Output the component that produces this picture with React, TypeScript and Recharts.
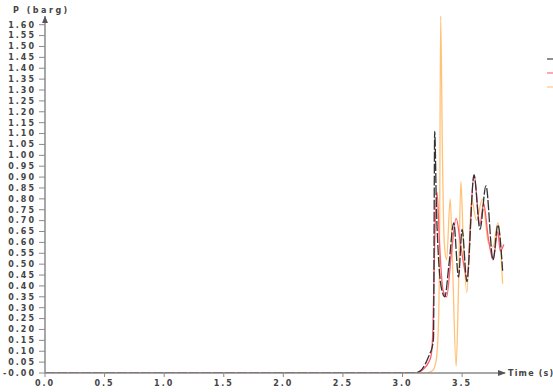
import React from "react";
import {
  LineChart,
  Line,
  XAxis,
  YAxis,
  Legend,
  ReferenceDot,
} from "recharts";

// pressure traces, time in s, pressure in barg
const blackTime = [0, 3.1, 3.15, 3.19, 3.23, 3.245, 3.26, 3.27, 3.285, 3.3, 3.33, 3.355, 3.39, 3.43, 3.47, 3.5, 3.54, 3.6, 3.65, 3.7, 3.76, 3.8, 3.84];
const blackP = [0, 0, 0.01, 0.04, 0.09, 0.11, 0.16, 1.11, 0.75, 0.55, 0.38, 0.35, 0.5, 0.69, 0.44, 0.66, 0.42, 0.91, 0.66, 0.86, 0.52, 0.68, 0.47];

const redTime = [0, 3.12, 3.18, 3.22, 3.24, 3.255, 3.27, 3.29, 3.31, 3.34, 3.37, 3.41, 3.45, 3.49, 3.54, 3.6, 3.65, 3.68, 3.72, 3.76, 3.8, 3.82, 3.85];
const redP = [0, 0, 0.02, 0.05, 0.08, 0.2, 0.6, 0.83, 0.6, 0.38, 0.35, 0.55, 0.71, 0.58, 0.44, 0.91, 0.68, 0.78, 0.62, 0.52, 0.65, 0.56, 0.59];

const orangeTime = [0, 3.2, 3.25, 3.28, 3.3, 3.31, 3.32, 3.335, 3.35, 3.37, 3.4, 3.42, 3.45, 3.47, 3.49, 3.51, 3.54, 3.58, 3.62, 3.67, 3.72, 3.76, 3.8, 3.84];
const orangeP = [0, 0, 0.01, 0.05, 0.2, 0.5, 1.64, 1.0, 0.6, 0.52, 0.8, 0.5, 0.03, 0.4, 0.88, 0.6, 0.37, 0.8, 0.7, 0.8, 0.6, 0.58, 0.69, 0.41];

const xTicks = [0, 0.5, 1.0, 1.5, 2.0, 2.5, 3.0, 3.5];
const yTicks = [
  0, 0.05, 0.1, 0.15, 0.2, 0.25, 0.3, 0.35, 0.4, 0.45, 0.5, 0.55, 0.6, 0.65,
  0.7, 0.75, 0.8, 0.85, 0.9, 0.95, 1.0, 1.05, 1.1, 1.15, 1.2, 1.25, 1.3, 1.35,
  1.4, 1.45, 1.5, 1.55, 1.6,
];

const zip = (t: number[], p: number[]) => t.map((v, i) => ({ t: v, p: p[i] }));

const series = [
  { name: "Test 3", data: zip(orangeTime, orangeP), color: "#ffc278", dash: undefined },
  { name: "Test 2", data: zip(redTime, redP), color: "#ff5c70", dash: undefined },
  { name: "Test 1", data: zip(blackTime, blackP), color: "#333", dash: "10 2" },
];

const axisColor = "#8a8a8a";
const tickStyle = { fontSize: 8, fill: "#444", fontWeight: 600, letterSpacing: 2 };

const LegendLines = () => (
  <div>
    {[...series].reverse().map((s) => (
      <div
        key={s.name}
        style={{
          width: 8,
          height: 2,
          marginBottom: 12,
          backgroundColor: s.color,
          opacity: 0.55,
        }}
      />
    ))}
  </div>
);

const XArrow = (props: any) => {
  const { cx, cy } = props;
  return (
    <g>
      <path d={`M${cx - 7},${cy - 3} L${cx + 1},${cy} L${cx - 7},${cy + 3} Z`} fill="#555" />
      <text x={cx + 3} y={cy + 3} fontSize={8} fontWeight={600} fill="#444" letterSpacing={1.2}>
        Time (s)
      </text>
    </g>
  );
};

const YArrow = (props: any) => {
  const { cx, cy } = props;
  return (
    <g>
      <path d={`M${cx - 3},${cy + 7} L${cx},${cy} L${cx + 3},${cy + 7} Z`} fill="#555" />
      <text x={cx - 32} y={cy - 3} fontSize={8} fontWeight={600} fill="#444" letterSpacing={2.5}>
        P (barg)
      </text>
    </g>
  );
};

export default function App() {
  return (
    <div
      style={{
        position: "absolute",
        left: 0,
        top: 0,
        width: 553,
        height: 392,
        background: "#fff",
        overflow: "hidden",
        fontFamily: "'DejaVu Sans', sans-serif",
      }}
    >
      <LineChart width={553} height={392} margin={{ top: 16, right: 48, bottom: 0, left: 0 }}>
        <XAxis
          dataKey="t"
          type="number"
          domain={[0, 3.86]}
          ticks={xTicks}
          interval={0}
          tickFormatter={(v: number) => v.toFixed(1)}
          height={19}
          tickSize={4}
          tickMargin={3}
          axisLine={{ stroke: axisColor, strokeWidth: 1.5 }}
          tickLine={{ stroke: axisColor }}
          tick={tickStyle}
        />
        <YAxis
          type="number"
          domain={[0, 1.64]}
          ticks={yTicks}
          interval={0}
          allowDataOverflow
          tickFormatter={(v: number) => (v === 0 ? "-0.00" : v.toFixed(2))}
          width={45}
          tickSize={6}
          tickMargin={3}
          axisLine={{ stroke: axisColor, strokeWidth: 1.5 }}
          tickLine={{ stroke: axisColor }}
          tick={tickStyle}
        />
        <Legend
          layout="vertical"
          align="center"
          verticalAlign="middle"
          content={<LegendLines />}
          wrapperStyle={{ position: "absolute", left: 547, top: 58, width: 10 }}
        />
        {series.map((s) => (
          <Line
            key={s.name}
            name={s.name}
            data={s.data}
            dataKey="p"
            type="monotone"
            stroke={s.color}
            strokeWidth={1.3}
            strokeDasharray={s.dash}
            dot={false}
            activeDot={false}
            isAnimationActive={false}
          />
        ))}
        <ReferenceDot x={3.86} y={0} ifOverflow="visible" shape={<XArrow />} />
        <ReferenceDot x={0} y={1.64} ifOverflow="visible" shape={<YArrow />} />
      </LineChart>
    </div>
  );
}
